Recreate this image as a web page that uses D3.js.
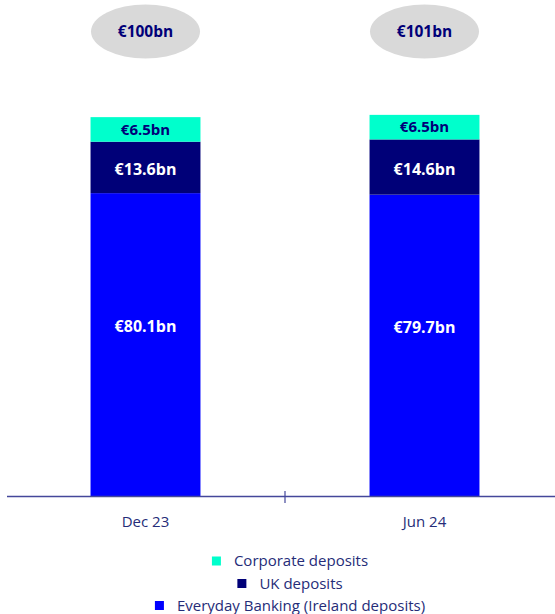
<!DOCTYPE html>
<html>
<head>
<meta charset="utf-8">
<script src="https://cdn.jsdelivr.net/npm/d3@7"></script>
<style>
  body { margin: 0; background: #fff; }
  svg { font-family: "Open Sans", sans-serif; }
</style>
</head>
<body>
<script>
// chart data
var periods = ["Dec 23", "Jun 24"];
var everyday = [80.1, 79.7];
var ukDeposits = [13.6, 14.6];
var corporate = [6.5, 6.5];
var totals = ["€100bn", "€101bn"];
var seriesNames = ["Corporate deposits", "UK deposits", "Everyday Banking (Ireland deposits)"];

var width = 555, height = 614;
var baseY = 496;

let svg = d3.select("body").append("svg")
    .attr("width", width)
    .attr("height", height);

// x band scale, tick sits between the two bars
var x = d3.scaleBand()
    .domain(periods)
    .range([6, 564])
    .paddingInner(0.606)
    .paddingOuter(0.303);

var y = d3.scaleLinear()
    .domain([0, 100.5])
    .range([baseY, 116]);

// stack the series bottom-up
var rows = periods.map(function(p, i) {
    return { period: p, everyday: everyday[i], uk: ukDeposits[i], corporate: corporate[i] };
});
var keys = ["everyday", "uk", "corporate"];
var colors = { everyday: "#0000ff", uk: "#000078", corporate: "#00ffcc" };
var labelColors = { everyday: "#ffffff", uk: "#ffffff", corporate: "#000078" };
var labelShift = { everyday: -18, uk: 2, corporate: 0 };

var stacked = d3.stack().keys(keys)(rows);

stacked.forEach(function(layer) {
    let g = svg.append("g");
    g.selectAll("rect")
        .data(layer)
        .enter().append("rect")
        .attr("x", function(d) { return x(d.data.period); })
        .attr("width", x.bandwidth())
        .attr("y", function(d) { return y(d[1]); })
        .attr("height", function(d) { return y(d[0]) - y(d[1]); })
        .style("fill", colors[layer.key]);

    g.selectAll("text")
        .data(layer)
        .enter().append("text")
        .text(function(d) { return "€" + d.data[layer.key].toFixed(1) + "bn"; })
        .attr("x", function(d) { return x(d.data.period) + x.bandwidth() / 2; })
        .attr("y", function(d) { return (y(d[0]) + y(d[1])) / 2 + labelShift[layer.key]; })
        .attr("dy", "0.35em")
        .attr("text-anchor", "middle")
        .style("font-weight", "bold")
        .style("font-size", layer.key == "corporate" ? "15px" : "16px")
        .style("fill", labelColors[layer.key]);
});

// total bubbles above bars
periods.forEach(function(p, i) {
    let cx = x(p) + x.bandwidth() / 2;
    svg.append("ellipse")
        .attr("cx", cx)
        .attr("cy", 31.5)
        .attr("rx", 54.5)
        .attr("ry", 27)
        .style("fill", "#d9d9d9");
    svg.append("text")
        .text(totals[i])
        .attr("x", cx)
        .attr("y", 31.5)
        .attr("dy", "0.35em")
        .attr("text-anchor", "middle")
        .style("font-weight", "bold")
        .style("font-size", "15.5px")
        .style("fill", "#000078");
});

// x axis line with a tick between the categories
svg.append("line")
    .attr("x1", 7).attr("x2", width)
    .attr("y1", baseY + 0.5).attr("y2", baseY + 0.5)
    .style("stroke", "#44479a")
    .style("stroke-width", 1.5);

var midX = x(periods[1]) - x.step() * x.paddingInner() / 2;
svg.append("line")
    .attr("x1", midX).attr("x2", midX)
    .attr("y1", baseY - 5).attr("y2", baseY + 7)
    .style("stroke", "#44479a")
    .style("stroke-width", 1.2);

svg.selectAll(".cat")
    .data(periods)
    .enter().append("text")
    .attr("class", "cat")
    .text(function(d) { return d; })
    .attr("x", function(d) { return x(d) + x.bandwidth() / 2; })
    .attr("y", 522)
    .attr("dy", "0.35em")
    .attr("text-anchor", "middle")
    .style("font-size", "15px")
    .style("fill", "#252c78");

// legend, one centred row per series
var legendColors = [colors.corporate, colors.uk, colors.everyday];
var legendY = [561, 583.5, 605.5];
seriesNames.forEach(function(name, i) {
    let row = svg.append("g");
    let t = row.append("text")
        .text(name)
        .attr("x", 22)
        .attr("y", 0)
        .attr("dy", "0.35em")
        .style("font-size", "15px")
        .style("fill", "#252c78");
    row.append("rect")
        .attr("x", 0)
        .attr("y", -4.5)
        .attr("width", 9)
        .attr("height", 9)
        .style("fill", legendColors[i]);
    let w = 22 + t.node().getComputedTextLength();
    row.attr("transform", "translate(" + (290 - w / 2) + "," + legendY[i] + ")");
});
</script>
</body>
</html>
